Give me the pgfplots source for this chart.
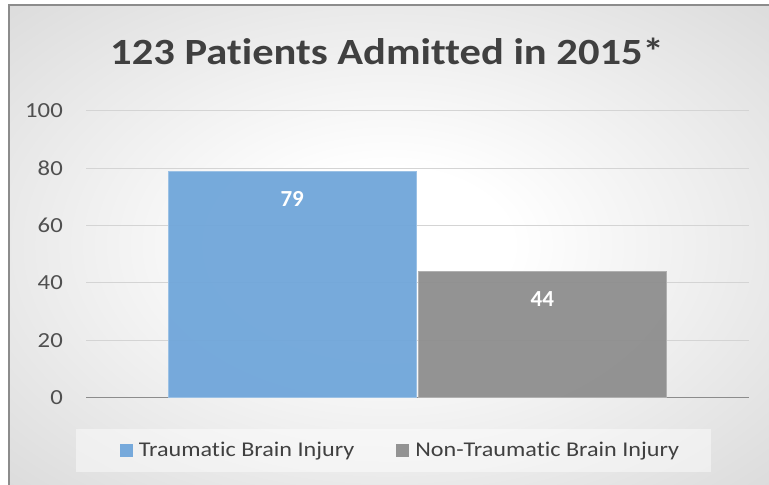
\documentclass[border=0pt]{standalone}
\usepackage{pgfplots}
\pgfplotsset{compat=1.18}
\usepackage{fontspec}
\setmainfont[Ligatures=NoCommon, FakeStretch=1.15]{Carlito}
\newfontfamily\plainfont[Ligatures=NoCommon]{Carlito}
\definecolor{tbi}{HTML}{70A6DA}
\definecolor{ntbi}{HTML}{8E8E8E}
\definecolor{txt}{HTML}{404040}
\definecolor{ticktxt}{HTML}{505050}
\definecolor{gridc}{HTML}{D4D4D4}
\definecolor{zeroc}{HTML}{8C8C8C}
\pgfdeclareradialshading{bg}{\pgfpoint{0bp}{0bp}}{color(0bp)=(white); color(8bp)=(white); color(50bp)=(black!21); color(72bp)=(black!28)}
\begin{document}
\begin{tikzpicture}
\useasboundingbox (0bp,0bp) rectangle (769bp,485bp);
\fill[white] (0bp,0bp) rectangle (769bp,485bp);
\shade[shading=bg] (9bp,0bp) rectangle (769bp,480bp);
\draw[color=zeroc, line width=2bp] (9bp,0bp) -- (9bp,480bp) -- (769bp,480bp);
\begin{axis}[
  at={(86bp,87.5bp)}, anchor=south west,
  scale only axis, width=663bp, height=286.5bp,
  xmin=-0.824, xmax=1.826, ymin=0, ymax=100,
  axis line style={draw=none},
  xtick=\empty, ytick={20,40,60,80,100}, extra y ticks={0},
  ymajorgrids,
  major grid style={draw=gridc, line width=1bp},
  extra y tick style={major grid style={draw=zeroc, line width=1bp}},
  major tick length=0pt, tick style={draw=none},
  /pgf/number format/assume math mode=true,
  yticklabel style={font=\fontsize{21.5bp}{26bp}\selectfont, text=ticktxt, inner sep=0pt, xshift=-23bp},
  title={123 Patients Admitted in 2015*},
  title style={at={(0.454,1)}, anchor=base, yshift=40.5bp, font=\bfseries\fontsize{37bp}{40bp}\selectfont, text=txt, inner sep=0pt},
  ybar, bar width=0.992,
  nodes near coords,
  nodes near coords style={font=\plainfont\bfseries\fontsize{23bp}{27bp}\selectfont, text=white, text opacity=1, anchor=center, yshift=-28bp},
  legend style={at={(0.4638,-0.185)}, anchor=center, draw=none, fill=white, fill opacity=0.45, text opacity=1,
    font=\fontsize{21bp}{25bp}\selectfont, text=txt, inner xsep=30bp, inner ysep=11.5bp,
    /tikz/every even column/.append style={column sep=26bp}},
  legend columns=2, legend cell align=left,
]
\addplot[bar shift=0pt, fill=tbi, draw=tbi!70!white, line width=1bp, fill opacity=0.95,
  legend image code/.code={\path[draw=none,fill=none] (-14bp,0bp) -- (17bp,0bp); \path[draw=none,fill=tbi] (0bp,-6.5bp) rectangle (13bp,6.5bp);}]
  coordinates {(0,79)};
\addlegendentry{Traumatic Brain Injury}
\addplot[bar shift=0pt, fill=ntbi, draw=ntbi!70!white, line width=1bp, fill opacity=0.95,
  legend image code/.code={\path[draw=none,fill=none] (-14bp,0bp) -- (17bp,0bp); \path[draw=none,fill=ntbi] (0bp,-6.5bp) rectangle (13bp,6.5bp);}]
  coordinates {(1,44)};
\addlegendentry{Non-Traumatic Brain Injury}
\end{axis}
\end{tikzpicture}
\end{document}
